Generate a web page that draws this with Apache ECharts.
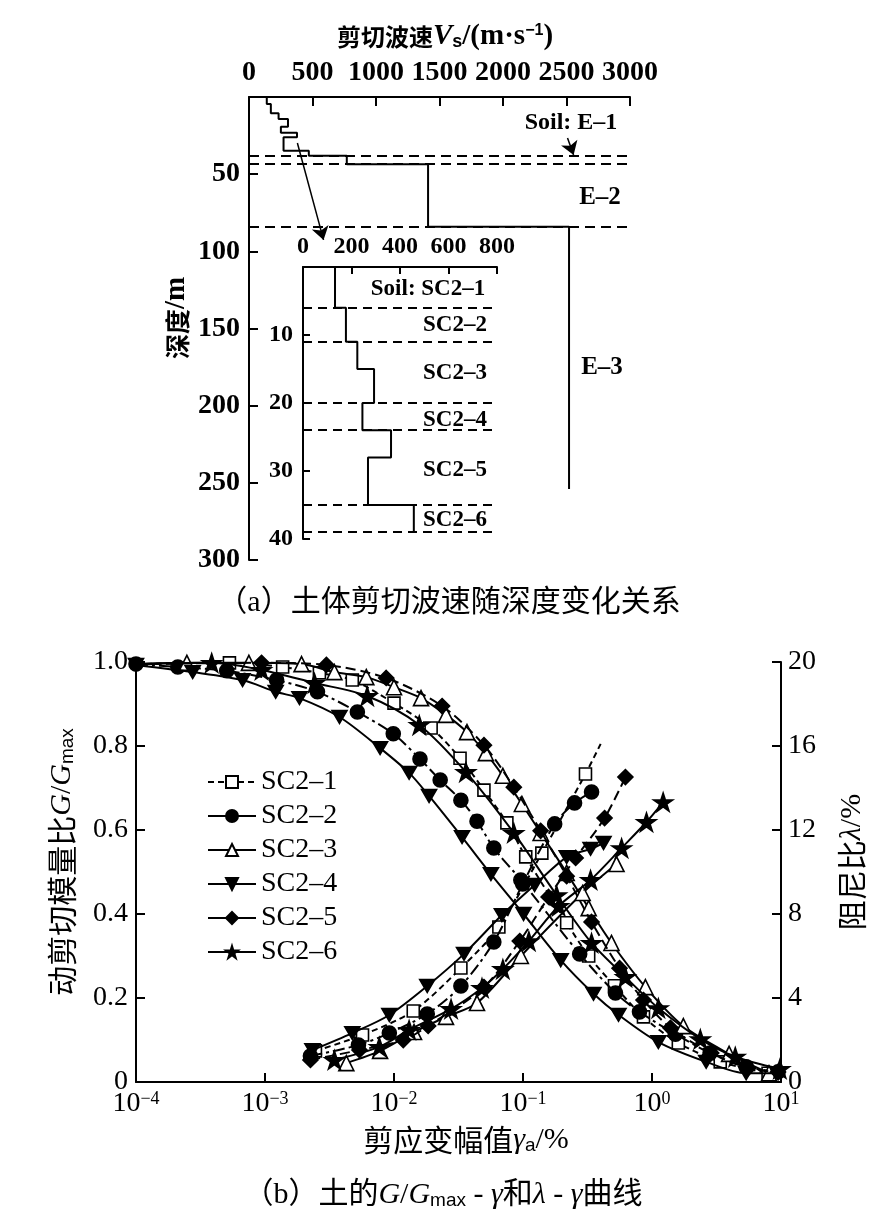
<!DOCTYPE html>
<html><head><meta charset="utf-8">
<script src="https://cdn.jsdelivr.net/npm/echarts/dist/echarts.min.js"></script>
<style>html,body{margin:0;padding:0;background:#fff}#c{width:889px;height:1230px}</style>
</head><body><div id="c"></div>
<script>
// ---------- (a) shear wave velocity profiles ----------
const vsTicks = [0, 500, 1000, 1500, 2000, 2500, 3000];
const depthTicks = [0, 50, 100, 150, 200, 250, 300];
// whole site profile: layer bottom depth (m) and Vs (m/s)
const eLayerBottom = [4.5, 10.6, 14.3, 19.2, 23.1, 26.1, 34.8, 38, 43.5, 84, 254];
const eLayerVs     = [140, 172, 233, 307, 251, 378, 272, 471, 770, 1410, 2520];
const eBounds = [38, 43, 84];
// inset (upper 40 m)
const scLayerBottom = [6, 11, 15, 20, 24, 28, 35, 39];
const scLayerVs     = [132, 177, 224, 293, 245, 363, 268, 457];
const scBounds = [6, 11, 20, 24, 35, 39];
const arrowMain = [[381, 29.8], [587, 92.6]];
const arrowE1 = [[2508, 26.5], [2556, 37.5]];

// ---------- (b) G/Gmax - gamma and damping - gamma ----------
const names = ['SC2–1', 'SC2–2', 'SC2–3', 'SC2–4', 'SC2–5', 'SC2–6'];
const G_SC2_1 = [[1e-4,0.995],[5.3e-4,0.998],[1.37e-3,0.988],[2.64e-3,0.974],[4.75e-3,0.957],[0.0100,0.902],[0.0194,0.843],[0.0325,0.771],[0.0498,0.695],[0.075,0.617],[0.105,0.536],[0.218,0.379],[0.323,0.300],[0.512,0.229],[0.859,0.155],[1.60,0.093],[3.38,0.048],[7.94,0.021]];
const G_SC2_2 = [[1e-4,0.995],[2.11e-4,0.988],[5.05e-4,0.979],[1.23e-3,0.957],[2.55e-3,0.929],[5.2e-3,0.881],[9.87e-3,0.829],[0.0159,0.769],[0.0228,0.719],[0.033,0.671],[0.044,0.621],[0.0594,0.557],[0.0962,0.481],[0.275,0.305],[0.521,0.212],[0.80,0.167],[1.52,0.114],[2.82,0.069],[5.37,0.036],[9.48,0.024]];
const G_SC2_3 = [[1e-4,0.995],[2.48e-4,0.998],[7.5e-4,0.998],[1.92e-3,0.995],[3.45e-3,0.976],[6.1e-3,0.964],[0.0100,0.940],[0.0162,0.914],[0.0253,0.874],[0.0368,0.833],[0.0515,0.783],[0.0698,0.729],[0.098,0.662],[0.137,0.593],[0.218,0.498],[0.323,0.414],[0.485,0.331],[0.889,0.226],[1.75,0.133],[3.96,0.067],[8.07,0.021]];
const G_SC2_4 = [[1e-4,0.993],[2.75e-4,0.976],[6.7e-4,0.957],[1.21e-3,0.929],[1.85e-3,0.914],[3.78e-3,0.869],[7.8e-3,0.795],[0.0131,0.736],[0.0187,0.681],[0.0337,0.583],[0.0564,0.495],[0.101,0.400],[0.196,0.290],[0.352,0.210],[0.55,0.160],[1.12,0.095],[2.63,0.048],[5.37,0.021],[9.5,0.021]];
const G_SC2_5 = [[1e-4,0.995],[9.4e-4,0.998],[2.99e-3,0.993],[8.7e-3,0.962],[0.0236,0.895],[0.0498,0.802],[0.0849,0.702],[0.137,0.598],[0.218,0.490],[0.340,0.381],[0.560,0.271],[0.859,0.195],[1.39,0.129],[2.88,0.069],[5.56,0.033],[9.48,0.024]];
const G_SC2_6 = [[1e-4,0.995],[3.86e-4,0.998],[9.4e-4,0.981],[2.42e-3,0.950],[6.2e-3,0.919],[0.0157,0.850],[0.0361,0.738],[0.0849,0.593],[0.182,0.445],[0.340,0.331],[0.622,0.250],[1.12,0.176],[2.37,0.102],[4.42,0.060],[9.8,0.031]];
const D_SC2_1 = [[2.46e-3,1.48],[5.7e-3,2.24],[0.0141,3.38],[0.033,5.43],[0.065,7.38],[0.140,10.90],[0.305,14.67],[0.40,16.1]];
const D_SC2_2 = [[2.25e-3,1.24],[5.3e-3,1.76],[9.2e-3,2.33],[0.0181,3.24],[0.033,4.57],[0.0594,6.67],[0.0995,9.43],[0.176,12.29],[0.251,13.29],[0.340,13.81]];
const D_SC2_3 = [[4.27e-3,0.90],[7.8e-3,1.48],[0.0143,2.38],[0.0253,3.10],[0.044,3.76],[0.0962,6.0],[0.290,9.0],[0.531,10.38]];
const D_SC2_4 = [[2.33e-3,1.52],[4.75e-3,2.33],[9.2e-3,3.19],[0.0181,4.57],[0.0349,6.10],[0.0686,7.95],[0.123,9.38],[0.218,10.71],[0.334,11.10],[0.421,11.38]];
const D_SC2_5 = [[2.25e-3,1.05],[5.4e-3,1.52],[0.0118,2.0],[0.0184,2.67],[0.0498,4.52],[0.0944,6.71],[0.158,8.81],[0.256,10.67],[0.429,12.57],[0.622,14.52]];
const D_SC2_6 = [[3.45e-3,1.05],[7.7e-3,1.67],[0.0131,2.48],[0.0277,3.48],[0.0481,4.48],[0.0698,5.38],[0.111,6.71],[0.189,8.38],[0.334,9.62],[0.581,11.14],[0.906,12.38],[1.22,13.33]];
// markers hidden on these points (line only)
const G_noMarkFirst = [true, false, true, false, true, true];
const D_noMarkLast = [true, false, false, false, false, false];

const GS = [G_SC2_1, G_SC2_2, G_SC2_3, G_SC2_4, G_SC2_5, G_SC2_6];
const DS = [D_SC2_1, D_SC2_2, D_SC2_3, D_SC2_4, D_SC2_5, D_SC2_6];

const SERIF = "'Liberation Serif','Noto Sans CJK SC',serif";
const CJK = "'Noto Sans CJK SC',sans-serif";
const STAR = 'path://M100,0L122.45,69.1L195.1,69.1L136.3,111.8L158.8,180.9L100,138.2L41.2,180.9L63.7,111.8L4.9,69.1L77.55,69.1Z';
const DOWN = 'path://M0,0L20,0L10,17Z';
const styles = [
  {symbol: 'rect', size: 12, fill: '#fff', dash: [6, 4]},
  {symbol: 'circle', size: 14, fill: '#000', dash: [12, 4, 3, 4]},
  {symbol: 'triangle', size: 15, fill: '#fff', dash: 'solid'},
  {symbol: DOWN, size: 15, fill: '#000', dash: 'solid'},
  {symbol: 'diamond', size: 15, fill: '#000', dash: [10, 5]},
  {symbol: STAR, size: 19, fill: '#000', dash: 'solid'}
];

function stepPath(bottoms, vs) {
  const pts = []; let top = 0;
  for (let i = 0; i < bottoms.length; i++) { pts.push([vs[i], top], [vs[i], bottoms[i]]); top = bottoms[i]; }
  return pts;
}

const chart = echarts.init(document.getElementById('c'), null, {renderer: 'canvas'});
const axisLineS = {show: true, onZero: false, lineStyle: {color: '#000', width: 2}};
const tickS = {show: true, inside: true, length: 9, lineStyle: {color: '#000', width: 2}};

const series = [];
// profiles
series.push({type: 'line', xAxisIndex: 0, yAxisIndex: 0, data: stepPath(eLayerBottom, eLayerVs), symbol: 'none',
  lineStyle: {color: '#000', width: 2}, silent: true,
  markLine: {silent: true, symbol: 'none', label: {show: false}, lineStyle: {color: '#000', width: 2, type: [10, 6]},
    data: eBounds.map(d => ({yAxis: d}))}});
series.push({type: 'line', xAxisIndex: 0, yAxisIndex: 0, data: [], symbol: 'none', silent: true,
  markLine: {silent: true, symbol: ['none', 'arrow'], symbolSize: 13, label: {show: false}, itemStyle: {color: '#000'}, lineStyle: {color: '#000', width: 1.5, type: 'solid'},
    data: [[{coord: arrowMain[0]}, {coord: arrowMain[1]}], [{coord: arrowE1[0]}, {coord: arrowE1[1]}]]}});
series.push({type: 'line', xAxisIndex: 1, yAxisIndex: 1, data: stepPath(scLayerBottom, scLayerVs), symbol: 'none',
  lineStyle: {color: '#000', width: 2}, silent: true,
  markLine: {silent: true, symbol: 'none', label: {show: false}, lineStyle: {color: '#000', width: 2, type: [9, 6]},
    data: scBounds.map(d => ({yAxis: d}))}});

for (let i = 0; i < 6; i++) {
  const s = styles[i];
  const base = {type: 'line', name: names[i], xAxisIndex: 2, smooth: 0.3, symbol: s.symbol, symbolSize: s.size,
    symbolKeepAspect: true, showAllSymbol: true, clip: false,
    itemStyle: {color: s.fill, borderColor: '#000', borderWidth: 1.6},
    lineStyle: {color: '#000', width: 2, type: s.dash}, emphasis: {disabled: true}};
  const gd = GS[i].map((p, k) => (k === 0 && G_noMarkFirst[i]) ? {value: p, symbol: 'none'} : p);
  const dd = DS[i].map((p, k) => (k === DS[i].length - 1 && D_noMarkLast[i]) ? {value: p, symbol: 'none'} : p);
  series.push(Object.assign({}, base, {yAxisIndex: 2, data: gd, z: 3 + i}));
  series.push(Object.assign({}, base, {yAxisIndex: 3, data: dd, z: 3 + i}));
}

function logFmt(v) {
  const e = Math.round(Math.log10(v));
  return '10{s|' + (e < 0 ? '−' + (-e) : String(e)) + '}';
}

const option = {
  animation: false,
  backgroundColor: '#fff',
  grid: [
    {left: 249, top: 97, width: 381, height: 463},
    {left: 303, top: 267, width: 194, height: 272},
    {left: 136, top: 662, width: 645, height: 420}
  ],
  xAxis: [
    {type: 'value', gridIndex: 0, position: 'top', min: 0, max: 3000, interval: 500,
      axisLine: axisLineS, axisTick: tickS, splitLine: {show: false},
      axisLabel: {fontFamily: SERIF, fontSize: 28, fontWeight: 'bold', color: '#000', margin: 10, formatter: v => String(v)}},
    {type: 'value', gridIndex: 1, position: 'top', min: 0, max: 800, interval: 200,
      axisLine: axisLineS, axisTick: Object.assign({}, tickS, {length: 7}), splitLine: {show: false},
      axisLabel: {fontFamily: SERIF, fontSize: 24, fontWeight: 'bold', color: '#000', margin: 8, formatter: v => String(v)}},
    {type: 'log', gridIndex: 2, logBase: 10, min: 1e-4, max: 10, position: 'bottom',
      axisLine: axisLineS, axisTick: tickS, splitLine: {show: false}, minorTick: {show: false},
      axisLabel: {fontFamily: SERIF, fontSize: 28, color: '#000', margin: 8, formatter: logFmt,
        rich: {s: {fontFamily: SERIF, fontSize: 18, verticalAlign: 'top', padding: [0, 0, 10, 0]}}}}
  ],
  yAxis: [
    {type: 'value', gridIndex: 0, inverse: true, min: 0, max: 300, interval: 50,
      axisLine: axisLineS, axisTick: tickS, splitLine: {show: false},
      axisLabel: {fontFamily: SERIF, fontSize: 28, fontWeight: 'bold', color: '#000', margin: 9,
        formatter: v => v === 0 ? '' : String(v)}},
    {type: 'value', gridIndex: 1, inverse: true, min: 0, max: 40, interval: 10,
      axisLine: axisLineS, axisTick: Object.assign({}, tickS, {length: 7}), splitLine: {show: false},
      axisLabel: {fontFamily: SERIF, fontSize: 24, fontWeight: 'bold', color: '#000', margin: 10,
        formatter: v => v === 0 ? '' : String(v)}},
    {type: 'value', gridIndex: 2, min: 0, max: 1, interval: 0.2, position: 'left',
      axisLine: axisLineS, axisTick: tickS, splitLine: {show: false},
      axisLabel: {fontFamily: SERIF, fontSize: 28, color: '#000', margin: 8,
        formatter: v => v === 0 ? '0' : v.toFixed(1)}},
    {type: 'value', gridIndex: 2, min: 0, max: 20, interval: 4, position: 'right',
      axisLine: axisLineS, axisTick: tickS, splitLine: {show: false},
      axisLabel: {fontFamily: SERIF, fontSize: 28, color: '#000', margin: 7}}
  ],
  legend: {
    left: 207, top: 768, orient: 'vertical', itemWidth: 48, itemHeight: 15, itemGap: 6, padding: 0,
    selectedMode: false,
    textStyle: {fontFamily: SERIF, fontSize: 28, color: '#000', lineHeight: 27},
    data: names.map((n, i) => (i === 1 || i === 4) ? {name: n, lineStyle: {type: 'solid'}} : {name: n})
  },
  graphic: [
    {type: 'text', x: 445, y: 37, style: {text: '{c|剪切波速}{i|V}{sub|s}/(m·s{sup|−1})', fontFamily: SERIF, fontSize: 29, fontWeight: 'bold', fill: '#000', align: 'center', verticalAlign: 'middle',
      rich: {c: {fontFamily: CJK, fontSize: 24, fontWeight: 'bold'}, i: {fontFamily: SERIF, fontStyle: 'italic', fontSize: 29, fontWeight: 'bold'}, sub: {fontSize: 18, fontWeight: 'bold', verticalAlign: 'bottom'}, sup: {fontSize: 16, fontWeight: 'bold', verticalAlign: 'top'}}}},
    {type: 'text', x: 177, y: 318, rotation: Math.PI / 2, style: {text: '{c|深度}/m', fontFamily: SERIF, fontSize: 29, fontWeight: 'bold', fill: '#000', align: 'center', verticalAlign: 'middle',
      rich: {c: {fontFamily: CJK, fontSize: 25, fontWeight: 'bold'}}}},
    {type: 'text', x: 571, y: 123, style: {text: 'Soil: E–1', fontFamily: SERIF, fontSize: 24, fontWeight: 'bold', fill: '#000', align: 'center', verticalAlign: 'middle'}},
    {type: 'text', x: 600, y: 198, style: {text: 'E–2', fontFamily: SERIF, fontSize: 25, fontWeight: 'bold', fill: '#000', align: 'center', verticalAlign: 'middle'}},
    {type: 'text', x: 602, y: 368, style: {text: 'E–3', fontFamily: SERIF, fontSize: 25, fontWeight: 'bold', fill: '#000', align: 'center', verticalAlign: 'middle'}},
    {type: 'text', x: 428, y: 289, style: {text: 'Soil: SC2–1', fontFamily: SERIF, fontSize: 23, fontWeight: 'bold', fill: '#000', align: 'center', verticalAlign: 'middle'}},
    {type: 'text', x: 423, y: 325, style: {text: 'SC2–2', fontFamily: SERIF, fontSize: 23, fontWeight: 'bold', fill: '#000', align: 'left', verticalAlign: 'middle'}},
    {type: 'text', x: 423, y: 373, style: {text: 'SC2–3', fontFamily: SERIF, fontSize: 23, fontWeight: 'bold', fill: '#000', align: 'left', verticalAlign: 'middle'}},
    {type: 'text', x: 423, y: 420, style: {text: 'SC2–4', fontFamily: SERIF, fontSize: 23, fontWeight: 'bold', fill: '#000', align: 'left', verticalAlign: 'middle'}},
    {type: 'text', x: 423, y: 470, style: {text: 'SC2–5', fontFamily: SERIF, fontSize: 23, fontWeight: 'bold', fill: '#000', align: 'left', verticalAlign: 'middle'}},
    {type: 'text', x: 423, y: 520, style: {text: 'SC2–6', fontFamily: SERIF, fontSize: 23, fontWeight: 'bold', fill: '#000', align: 'left', verticalAlign: 'middle'}},
    {type: 'text', x: 449, y: 603, style: {text: '（a）土体剪切波速随深度变化关系', fontFamily: SERIF, fontSize: 30, fill: '#000', align: 'center', verticalAlign: 'middle'}},
    {type: 'text', x: 466, y: 1140, style: {text: '{c|剪应变幅值}{i|γ}{sub|a}/%', fontFamily: SERIF, fontSize: 30, fill: '#000', align: 'center', verticalAlign: 'middle',
      rich: {c: {fontFamily: CJK, fontSize: 30}, i: {fontFamily: SERIF, fontStyle: 'italic', fontSize: 30}, sub: {fontSize: 19, verticalAlign: 'bottom'}}}},
    {type: 'text', x: 62, y: 862, rotation: Math.PI / 2, style: {text: '{c|动剪切模量比}{i|G}/{i|G}{sub|max}', fontFamily: SERIF, fontSize: 30, fill: '#000', align: 'center', verticalAlign: 'middle',
      rich: {c: {fontFamily: CJK, fontSize: 30}, i: {fontFamily: SERIF, fontStyle: 'italic', fontSize: 30}, sub: {fontSize: 19, verticalAlign: 'bottom'}}}},
    {type: 'text', x: 852, y: 862, rotation: Math.PI / 2, style: {text: '{c|阻尼比}{i|λ}/%', fontFamily: SERIF, fontSize: 30, fill: '#000', align: 'center', verticalAlign: 'middle',
      rich: {c: {fontFamily: CJK, fontSize: 30}, i: {fontFamily: SERIF, fontStyle: 'italic', fontSize: 30}}}},
    {type: 'text', x: 443, y: 1195, style: {text: '（b）土的{i|G}/{i|G}{sub|max} - {i|γ}和{i|λ} - {i|γ}曲线', fontFamily: SERIF, fontSize: 30, fill: '#000', align: 'center', verticalAlign: 'middle',
      rich: {i: {fontFamily: SERIF, fontStyle: 'italic', fontSize: 30}, sub: {fontSize: 19, verticalAlign: 'bottom'}}}}
  ],
  series: series
};
chart.setOption(option);
</script></body></html>
